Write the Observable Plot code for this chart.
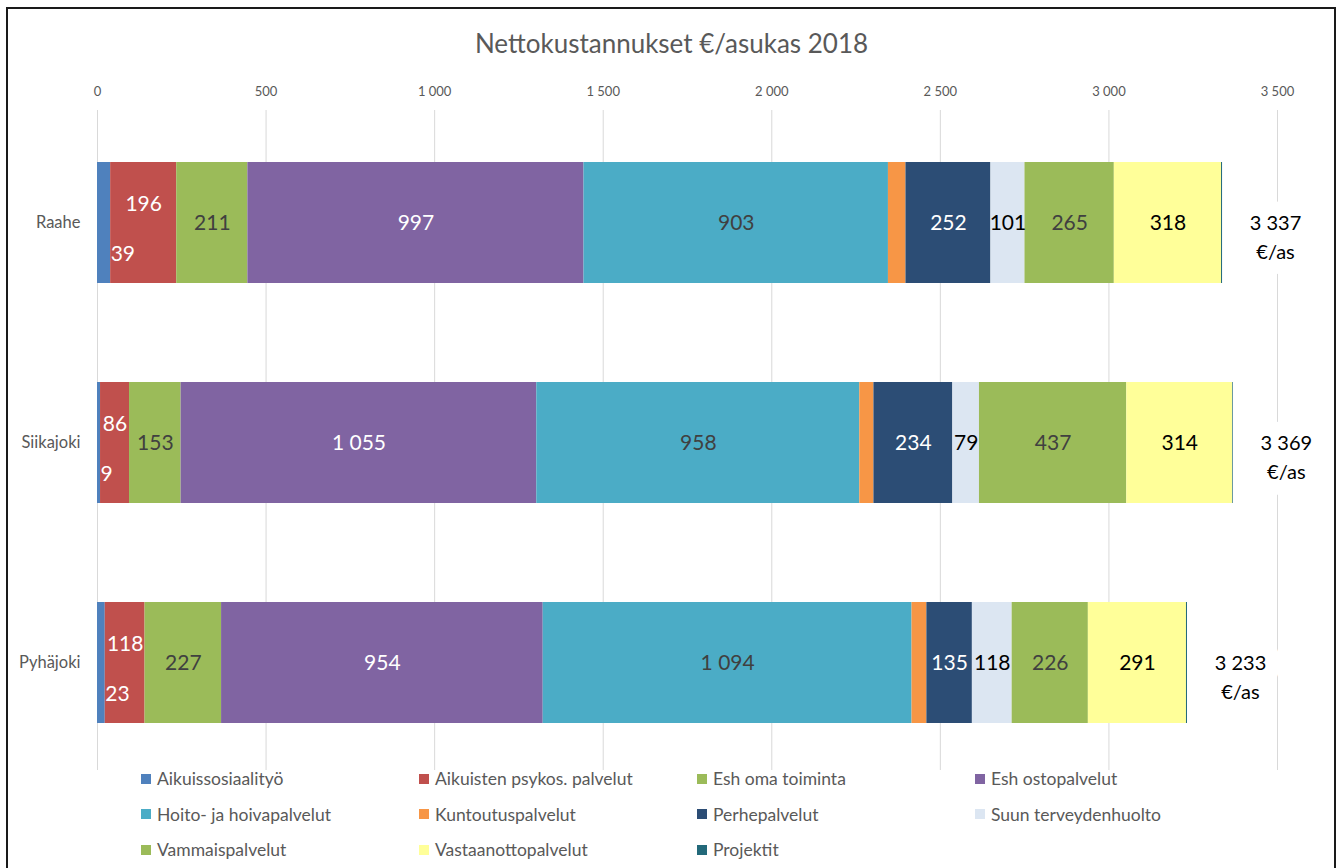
<!DOCTYPE html>
<html><head><meta charset="utf-8">
<script src="https://cdn.jsdelivr.net/npm/d3@7"></script>
<script src="https://cdn.jsdelivr.net/npm/@observablehq/plot@0.6"></script>
<style>
body{margin:0;background:#fff;font-family:Lato, sans-serif;}
#wrap{position:relative;width:1343px;height:868px;overflow:hidden;background:#fff;}
#frame{position:absolute;left:6px;top:7px;width:1330px;height:900px;border:2px solid #1a1a1a;box-sizing:border-box;z-index:5;pointer-events:none;}
#title{position:absolute;left:0;width:1343px;top:28px;text-align:center;font-size:26px;color:#595959;line-height:30px;}
#chart{position:absolute;left:0;top:60px;}
#legend{position:absolute;left:141px;top:761px;display:grid;grid-template-columns:repeat(4,278px);grid-auto-rows:35.5px;font-size:17.5px;color:#595959;}
.item{display:flex;align-items:center;white-space:nowrap}
.sw{width:10px;height:10px;margin-right:6px;flex:none}
</style></head><body>
<div id="wrap"><div id="title">Nettokustannukset €/asukas 2018</div><div id="chart"></div><div id="legend"></div><div id="frame"></div></div>
<script>
// ---- data ----
const categories = ["Raahe", "Siikajoki", "Pyhäjoki"];
const series = ["Aikuissosiaalityö", "Aikuisten psykos. palvelut", "Esh oma toiminta", "Esh ostopalvelut",
  "Hoito- ja hoivapalvelut", "Kuntoutuspalvelut", "Perhepalvelut", "Suun terveydenhuolto",
  "Vammaispalvelut", "Vastaanottopalvelut", "Projektit"];
const raahe     = [39, 196, 211, 997, 903, 52, 252, 101, 265, 318, 3];
const siikajoki = [9, 86, 153, 1055, 958, 42, 234, 79, 437, 314, 2];
const pyhajoki  = [23, 118, 227, 954, 1094, 44, 135, 118, 226, 291, 3];
const totals    = [3337, 3369, 3233];
const xTicks    = [0, 500, 1000, 1500, 2000, 2500, 3000, 3500];
const totalUnit = "€/as";

// ---- style ----
const seriesColors = ["#4F81BD", "#C0504D", "#9BBB59", "#8064A2", "#4BACC6", "#F79646",
  "#2C4D75", "#DCE6F2", "#9BBB59", "#FFFF99", "#23697A"];
const labelInk = ["white", "white", "#404040", "white", "#404040", null, "white", "black", "#404040", "black", null];

const fmt = d3.formatLocale({decimal: ",", thousands: "\u00a0", grouping: [3], currency: ["", ""]}).format(",d");

const valuesByCat = [raahe, siikajoki, pyhajoki];
const rows = [];
categories.forEach((c, ci) => series.forEach((s, si) => rows.push({cat: c, series: s, si, value: valuesByCat[ci][si]})));
const totalRows = categories.map((c, i) => ({cat: c, total: totals[i]}));

const colorOf = new Map(series.map((s, i) => [s, seriesColors[i]]));
const inkOf = d => labelInk[d.si] || "black";

const base = {x: "value", y: "cat", z: "si", order: null};

const chart = Plot.plot({
  width: 1343,
  height: 720,
  marginTop: 50,
  marginBottom: 10,
  marginLeft: 97,
  marginRight: 66,
  style: {fontFamily: "Lato, sans-serif", overflow: "visible", background: "transparent"},
  x: {domain: [0, 3500], label: null},
  y: {domain: categories, range: [1.8, 762.5], padding: 0.45, label: null},
  marks: [
    Plot.gridX(xTicks, {stroke: "#d9d9d9", strokeOpacity: 1, strokeWidth: 1}),
    Plot.axisX(xTicks, {anchor: "top", tickSize: 0, tickPadding: 15, tickFormat: fmt, fontSize: 13, fill: "#595959", label: null}),
    Plot.axisY({tickSize: 0, tickPadding: 17, fontSize: 16.5, fill: "#595959", label: null}),
    Plot.barX(rows, Plot.stackX({...base, fill: d => colorOf.get(d.series)})),
    // main labels (centered)
    Plot.text(rows, Plot.stackX({...base,
      text: d => (d.si >= 2 && labelInk[d.si]) ? fmt(d.value) : null,
      fill: inkOf, fontSize: 21})),
    // Aikuisten psykos. palvelut labels (raised)
    Plot.text(rows, Plot.stackX({...base,
      text: d => d.si === 1 ? fmt(d.value) : null,
      fill: inkOf, fontSize: 21, dy: -19})),
    // Aikuissosiaalityö labels (to the right of segment, lowered)
    Plot.text(rows, Plot.stackX2({...base,
      text: d => d.si === 0 ? fmt(d.value) : null,
      fill: inkOf, fontSize: 21, dy: 31, textAnchor: "start"})),
    // totals
    Plot.text(totalRows, {x: "total", y: "cat", text: d => fmt(d.total) + "\n" + totalUnit,
      dx: 53, dy: 12, lineHeight: 1.45, fontSize: 20, fill: "black",
      stroke: "white", strokeWidth: 30, strokeLinejoin: "round"})
  ]
});
document.getElementById("chart").appendChild(chart);

const legend = document.getElementById("legend");
series.forEach((s, i) => {
  const it = document.createElement("div");
  it.className = "item";
  const sw = document.createElement("span");
  sw.className = "sw";
  sw.style.background = seriesColors[i];
  const t = document.createElement("span");
  t.textContent = s;
  it.appendChild(sw); it.appendChild(t);
  legend.appendChild(it);
});
</script>
</body></html>
